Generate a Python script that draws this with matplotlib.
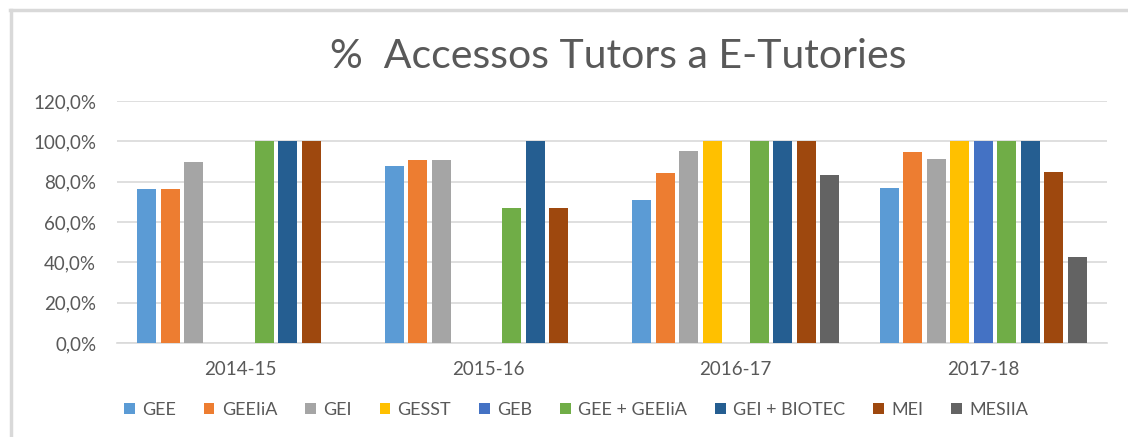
import matplotlib.pyplot as plt
import numpy as np

plt.rcParams['font.family'] = ['Lato', 'DejaVu Sans']

years = ['2014-15', '2015-16', '2016-17', '2017-18']
series = ['GEE', 'GEEIiA', 'GEI', 'GESST', 'GEB', 'GEE + GEEIiA', 'GEI + BIOTEC', 'MEI', 'MESIIA']
nan = np.nan
gee        = [76.1, 87.8, 70.8, 76.6]
geeiia     = [76.1, 90.5, 84.2, 94.6]
gei        = [89.5, 90.5, 95.1, 91.4]
gesst      = [nan, nan, 100.0, 100.0]
geb        = [nan, nan, nan, 100.0]
gee_geeiia = [100.0, 66.7, 100.0, 100.0]
gei_biotec = [100.0, 100.0, 100.0, 100.0]
mei        = [100.0, 66.7, 100.0, 84.8]
mesiia     = [nan, nan, 83.3, 42.5]
values = [gee, geeiia, gei, gesst, geb, gee_geeiia, gei_biotec, mei, mesiia]
colors = ['#5B9BD5', '#ED7D31', '#A5A5A5', '#FFC000', '#4472C4',
          '#70AD47', '#255E91', '#9E480E', '#636363']

txt = '#595959'
grid = '#D9D9D9'

fig = plt.figure(figsize=(11.28, 4.37), dpi=100)
ax = fig.add_axes([0.1037, 0.2151, 0.8777, 0.554])

x = np.arange(len(years))
slot = 0.095
width = 0.077
for i, (name, vals, c) in enumerate(zip(series, values, colors)):
    ax.bar(x + (i - 4) * slot, np.array(vals) / 100.0, width, color=c, label=name, zorder=3)

ax.set_xlim(-0.5, 3.5)
ax.set_ylim(0, 1.2)
ticks = np.arange(0, 1.21, 0.2)
ax.set_yticks(ticks)
ax.set_yticklabels([('%.1f%%' % (v * 100)).replace('.', ',') for v in ticks])
ax.set_xticks(x)
ax.set_xticklabels(years)
ax.tick_params(length=0, labelsize=13.5, colors=txt)
ax.tick_params(axis='y', pad=15)
ax.tick_params(axis='x', pad=13)
ax.grid(axis='y', color=grid, linewidth=1.2, zorder=0)
for s in ['top', 'right', 'left']:
    ax.spines[s].set_visible(False)
ax.spines['bottom'].set_color(grid)
ax.spines['bottom'].set_linewidth(1.2)

fig.text(0.548, 1 - 57 / 437, '%  Accessos Tutors a E-Tutories', ha='center', va='center',
         fontsize=29.5, color=txt)

leg = fig.legend(loc='center', bbox_to_anchor=(576 / 1128, 1 - 410 / 437), ncol=9,
                 frameon=False, fontsize=13, handlelength=0.6, handleheight=0.6,
                 handletextpad=0.4, columnspacing=1.55, labelcolor=txt)

# chart border (top and left visible)
fig.add_artist(plt.Line2D([10 / 1128, 1], [1 - 10 / 437, 1 - 10 / 437], color=grid, lw=2.5,
                          transform=fig.transFigure))
fig.add_artist(plt.Line2D([10.5 / 1128, 10.5 / 1128], [0, 1 - 10 / 437], color=grid, lw=2.5,
                          transform=fig.transFigure))

fig.savefig('out.png', dpi=100)
